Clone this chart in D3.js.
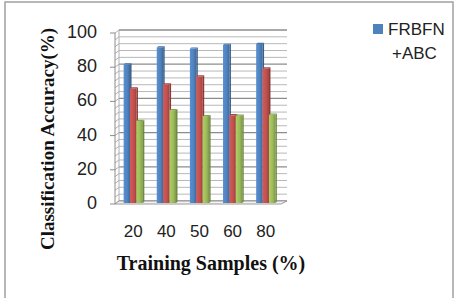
<!DOCTYPE html>
<html lang="en">
  <head>
    <meta charset="UTF-8" />
    <title>Classification accuracy chart</title>
    <style>
      body {
        margin: 0;
        background: #fff;
        overflow: hidden;
      }
      .tick-label {
        font-family: "Liberation Sans", Arial, sans-serif;
        font-size: 18px;
        fill: #222;
      }
      .axis-title {
        font-family: "Liberation Serif", "Times New Roman", serif;
        font-weight: bold;
        font-size: 19px;
        fill: #111;
      }
      .legend-label {
        font-family: "Liberation Sans", Arial, sans-serif;
        font-size: 17px;
        fill: #222;
      }
    </style>
  </head>
  <body>
    <div id="chart"></div>
    <script src="https://d3js.org/d3.v7.min.js"></script>
    <script>
      // data
      const categories = ["20", "40", "50", "60", "80"];
      const seriesNames = ["FRBFN+ABC", "Series2", "Series3"];
      const blueValues = [81, 91, 90.3, 92.5, 93];
      const redValues = [67, 69.4, 74, 51.3, 78.7];
      const greenValues = [48, 54.3, 50.8, 51, 51.6];
      const yTicks = [0, 20, 40, 60, 80, 100];

      const series = [blueValues, redValues, greenValues];
      const colors = ["#4f81bd", "#c0504d", "#9bbb59"];

      const width = 457, height = 298;
      const plotLeft = 115, plotRight = 280, plotTop = 33, plotBottom = 204;
      const dx = 4, dy = 3; // depth of the 3d box

      const svg = d3.select("#chart").append("svg")
        .attr("width", width)
        .attr("height", height);

      // outer frame
      svg.append("rect")
        .attr("x", 5).attr("y", 2)
        .attr("width", 448).attr("height", 310)
        .attr("fill", "none")
        .attr("stroke", "#a0a0a0")
        .attr("stroke-width", 1.5);

      const x = d3.scaleBand().domain(categories).range([plotLeft, plotRight]).paddingInner(0.42).paddingOuter(0.2);
      const y = d3.scaleLinear().domain([0, 100]).range([plotBottom, plotTop]);

      // gradients for the bars
      const defs = svg.append("defs");
      colors.forEach((c, i) => {
        const g = defs.append("linearGradient").attr("id", "grad" + i)
          .attr("x1", "0%").attr("x2", "100%");
        g.append("stop").attr("offset", "0%").attr("stop-color", d3.color(c).brighter(0.3));
        g.append("stop").attr("offset", "60%").attr("stop-color", c);
        g.append("stop").attr("offset", "100%").attr("stop-color", d3.color(c).darker(0.6));
      });

      // gridlines every 4, darker every 20
      const grid = svg.append("g");
      d3.range(0, 101, 4).forEach(v => {
        const major = v % 20 === 0;
        grid.append("line")
          .attr("x1", plotLeft + dx).attr("x2", plotRight + dx + 3)
          .attr("y1", y(v) - dy).attr("y2", y(v) - dy)
          .attr("stroke", major ? "#8c8c8c" : "#b8b8b8")
          .attr("stroke-width", major ? 1.3 : 1);
        grid.append("line")
          .attr("x1", plotLeft).attr("x2", plotLeft + dx)
          .attr("y1", y(v)).attr("y2", y(v) - dy)
          .attr("stroke", "#b0b0b0");
      });
      // back wall left edge
      grid.append("line")
        .attr("x1", plotLeft + dx).attr("x2", plotLeft + dx)
        .attr("y1", y(100) - dy).attr("y2", y(0) - dy)
        .attr("stroke", "#b0b0b0");

      // floor
      svg.append("path")
        .attr("d", `M${plotLeft},${plotBottom} L${plotLeft + dx},${plotBottom - dy} L${plotRight + dx + 3},${plotBottom - dy} L${plotRight + 1},${plotBottom} Z`)
        .attr("fill", "#f2f2f2")
        .attr("stroke", "#9a9a9a");

      // y axis with ticks
      svg.append("line")
        .attr("x1", plotLeft).attr("x2", plotLeft)
        .attr("y1", y(100)).attr("y2", y(0))
        .attr("stroke", "#8c8c8c");
      svg.append("g").selectAll("line").data(yTicks).join("line")
        .attr("x1", plotLeft - 5).attr("x2", plotLeft)
        .attr("y1", d => y(d)).attr("y2", d => y(d))
        .attr("stroke", "#8c8c8c");
      svg.append("g").selectAll("text").data(yTicks).join("text")
        .attr("class", "tick-label")
        .attr("x", 97).attr("y", d => y(d) - 1)
        .attr("text-anchor", "end")
        .attr("dominant-baseline", "central")
        .text(d => d);

      // bars
      const barW = x.bandwidth() / 3;
      series.forEach((vals, si) => {
        const g = svg.append("g");
        vals.forEach((v, ci) => {
          const bx = x(categories[ci]) + si * barW + 2;
          const by = y(v) - 1;
          const bh = y(0) - 1 - by;
          // side face
          g.append("path")
            .attr("d", `M${bx + barW},${by} L${bx + barW + 1.5},${by - 1.2} L${bx + barW + 1.5},${by + bh - 1.2} L${bx + barW},${by + bh} Z`)
            .attr("fill", d3.color(colors[si]).darker(0.9));
          // top face
          g.append("path")
            .attr("d", `M${bx},${by} L${bx + 1.5},${by - 1.2} L${bx + barW + 1.5},${by - 1.2} L${bx + barW},${by} Z`)
            .attr("fill", d3.color(colors[si]).darker(0.4));
          g.append("rect")
            .attr("x", bx).attr("y", by)
            .attr("width", barW).attr("height", bh)
            .attr("fill", `url(#grad${si})`);
        });
      });

      // x labels
      svg.append("g").selectAll("text").data(categories).join("text")
        .attr("class", "tick-label")
        .attr("x", d => x(d) + x.bandwidth() / 2 + 2)
        .attr("y", 231)
        .attr("text-anchor", "middle")
        .attr("dominant-baseline", "central")
        .style("font-size", "17px")
        .text(d => d);

      // axis titles
      svg.append("text")
        .attr("class", "axis-title")
        .attr("transform", "translate(54,139) rotate(-90)")
        .attr("text-anchor", "middle")
        .text("Classification Accuracy(%)");
      svg.append("text")
        .attr("class", "axis-title")
        .attr("x", 211).attr("y", 270)
        .attr("text-anchor", "middle")
        .style("font-size", "20px")
        .text("Training Samples (%)");

      // legend (only first entry is visible)
      svg.append("rect")
        .attr("x", 373).attr("y", 24)
        .attr("width", 10).attr("height", 10)
        .attr("fill", colors[0]);
      const leg = svg.append("text").attr("class", "legend-label");
      leg.append("tspan").attr("x", 388).attr("y", 35).text("FRBFN");
      leg.append("tspan").attr("x", 392).attr("y", 59).text("+ABC");
    </script>
  </body>
</html>
